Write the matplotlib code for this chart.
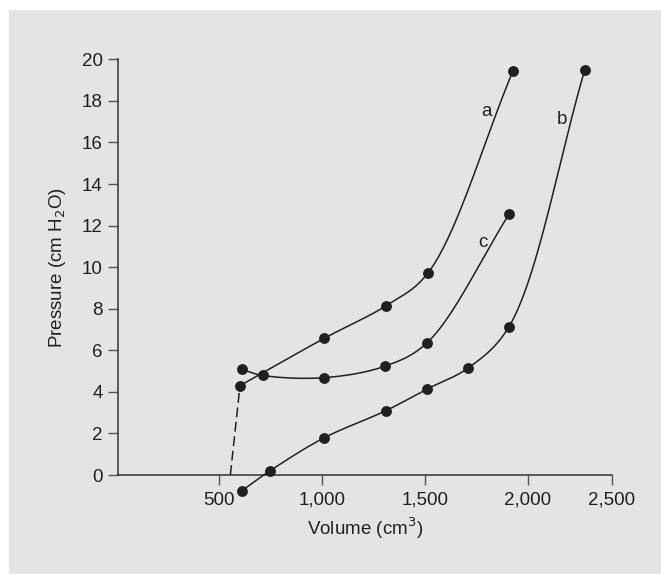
import matplotlib

matplotlib.use("Agg", force=True)
import matplotlib.pyplot as plt
import numpy as np
from matplotlib.patches import Rectangle

plt.rcParams["font.family"] = ["Liberation Sans", "DejaVu Sans"]

# volume (cm3) / pressure (cm H2O)
vol_a = [601, 1011, 1310, 1513, 1928]
pres_a = [4.30, 6.58, 8.14, 9.70, 19.45]

vol_b = [611, 745, 1008, 1309, 1511, 1707, 1908, 2276]
pres_b = [-0.75, 0.19, 1.78, 3.09, 4.14, 5.13, 7.13, 19.47]

vol_c = [609, 711, 1008, 1307, 1510, 1910]
pres_c = [5.08, 4.79, 4.68, 5.24, 6.36, 12.57]

# dashed extrapolation of curve a down to zero pressure
vol_dash = [554, 601]
pres_dash = [0.0, 4.30]

XMIN, XMAX = 8, 2409
x_ticks = [500, 1000, 1500, 2000, XMAX]
x_labels = ["500", "1,000", "1,500", "2,000", "2,500"]
y_ticks = list(range(0, 21, 2))

INK = "#231f20"


def smooth(xs, ys, n=40):
    # centripetal Catmull-Rom through the measured points, in scaled units
    p = np.column_stack([np.asarray(xs, float) / (XMAX - XMIN), np.asarray(ys, float) / 20.0])
    p = np.vstack([2 * p[0] - p[1], p, 2 * p[-1] - p[-2]])
    out = []
    for i in range(1, len(p) - 2):
        p0, p1, p2, p3 = p[i - 1], p[i], p[i + 1], p[i + 2]
        t0 = 0.0
        t1 = t0 + np.linalg.norm(p1 - p0) ** 0.5
        t2 = t1 + np.linalg.norm(p2 - p1) ** 0.5
        t3 = t2 + np.linalg.norm(p3 - p2) ** 0.5
        t = np.linspace(t1, t2, n)[:, None]
        a1 = (t1 - t) / (t1 - t0) * p0 + (t - t0) / (t1 - t0) * p1
        a2 = (t2 - t) / (t2 - t1) * p1 + (t - t1) / (t2 - t1) * p2
        a3 = (t3 - t) / (t3 - t2) * p2 + (t - t2) / (t3 - t2) * p3
        b1 = (t2 - t) / (t2 - t0) * a1 + (t - t0) / (t2 - t0) * a2
        b2 = (t3 - t) / (t3 - t1) * a2 + (t - t1) / (t3 - t1) * a3
        c = (t2 - t) / (t2 - t1) * b1 + (t - t1) / (t2 - t1) * b2
        out.append(c if i == 1 else c[1:])
    c = np.vstack(out)
    return c[:, 0] * (XMAX - XMIN), c[:, 1] * 20.0


fig = plt.figure(figsize=(6.61, 5.74), dpi=100, facecolor="white")
fig.patches.append(Rectangle((9 / 661, 0), 1, 1 - 10 / 574, transform=fig.transFigure,
                             facecolor="#e3e4e5", edgecolor="none", zorder=-10))

ax = fig.add_axes([118 / 661, 1 - 475 / 574, 494 / 661, 415.7 / 574])
ax.set_facecolor("none")

for xs, ys in [(vol_a, pres_a), (vol_b, pres_b), (vol_c, pres_c)]:
    sx, sy = smooth(xs, ys)
    ax.plot(sx, sy, color=INK, lw=1.1, clip_on=False, zorder=3)
    ax.plot(xs, ys, "o", color=INK, ms=6.8, clip_on=False, zorder=4)

ax.plot(vol_dash, pres_dash, color=INK, lw=1.1, ls=(0, (6.5, 3)), clip_on=False, zorder=3)

ax.text(1797, 17.47, "a", fontsize=13.5, ha="center", va="center", color=INK)
ax.text(2167, 17.1, "b", fontsize=13.5, ha="center", va="center", color=INK)
ax.text(1780, 11.17, "c", fontsize=13.5, ha="center", va="center", color=INK)

ax.set_xlim(XMIN, XMAX)
ax.set_ylim(0, 20)
ax.set_xticks(x_ticks)
ax.set_xticklabels(x_labels)
ax.set_yticks(y_ticks)

for side in ("top", "right"):
    ax.spines[side].set_visible(False)
for side in ("left", "bottom"):
    ax.spines[side].set_color("#333333")
    ax.spines[side].set_linewidth(1.1)

ax.tick_params(axis="both", direction="out", length=7, width=1.0, color="#555555",
               labelsize=13.5, labelcolor=INK)
ax.tick_params(axis="y", pad=4)
ax.tick_params(axis="x", pad=5)

ax.set_xlabel("Volume (cm$^3$)", fontsize=13.5, color=INK, labelpad=5)
ax.set_ylabel("Pressure (cm H$_2$O)", fontsize=13.5, color=INK, labelpad=10)

fig.savefig("out.png", dpi=100, facecolor="white")
